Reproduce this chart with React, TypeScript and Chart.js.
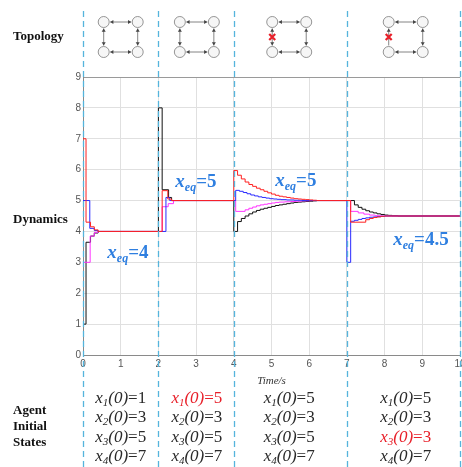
import React, { useEffect, useRef } from "react";
import { Chart, registerables } from "chart.js";

Chart.register(...registerables);

// ---------- data ----------
const xTicks = [0, 1, 2, 3, 4, 5, 6, 7, 8, 9, 10];
const yTicks = [0, 1, 2, 3, 4, 5, 6, 7, 8, 9];
const switchTimes = [0, 2, 4, 7, 10];
const segmentCenters = [1, 3.02, 5.47, 8.56];
const initialStates = [
  [1, 3, 5, 7],
  [5, 3, 5, 7],
  [5, 3, 5, 7],
  [5, 3, 3, 7],
];
const changedAgent = [-1, 0, -1, 2];
const eqLabels = ["4", "5", "5", "4.5"];
const eqLabelT = [0.645, 2.45, 5.1, 8.23];
const eqLabelY = [3.14, 5.44, 5.47, 3.56];
const brokenLink = [false, false, true, true];

// [time, value] change points (value holds from time until next point)
const agent1: [number, number][] = [
  [0, 1], [0.08, 3.65], [0.2, 3.85], [0.3, 3.95], [0.4, 4.0],
  [2.0, 8.0], [2.1, 5.35], [2.27, 5.1], [2.35, 5.0],
  [4.0, 4.0], [4.1, 4.32], [4.2, 4.42], [4.3, 4.5], [4.4, 4.57], [4.5, 4.63],
  [4.6, 4.68], [4.7, 4.72], [4.8, 4.75], [4.9, 4.78], [5.0, 4.81], [5.1, 4.84],
  [5.2, 4.86], [5.3, 4.88], [5.4, 4.9], [5.5, 4.92], [5.6, 4.94], [5.7, 4.95],
  [5.8, 4.96], [5.9, 4.97], [6.0, 4.98], [6.1, 4.99], [6.2, 5.0],
  [7.2, 4.86], [7.3, 4.78], [7.4, 4.72], [7.5, 4.67], [7.6, 4.63], [7.7, 4.6],
  [7.8, 4.57], [7.9, 4.55], [8.0, 4.53], [8.1, 4.52], [8.2, 4.51], [8.35, 4.5],
  [10, 4.5],
];
const agent2: [number, number][] = [
  [0, 3], [0.19, 3.85], [0.3, 3.97], [0.4, 4.0],
  [2.1, 4.8], [2.26, 4.9], [2.4, 5.0],
  [4.05, 4.65], [4.3, 4.7], [4.4, 4.75], [4.5, 4.79], [4.6, 4.83], [4.7, 4.86],
  [4.8, 4.88], [4.9, 4.9], [5.0, 4.92], [5.1, 4.94], [5.2, 4.95], [5.35, 4.96],
  [5.5, 4.97], [5.65, 4.98], [5.8, 4.99], [6.0, 5.0],
  [7.1, 4.65], [7.3, 4.6], [7.45, 4.56], [7.6, 4.53], [7.75, 4.51], [7.9, 4.5],
  [10, 4.5],
];
const agent3: [number, number][] = [
  [0, 5], [0.18, 4.1], [0.3, 4.03], [0.4, 4.0],
  [2.2, 5.1], [2.3, 5.0],
  [4.05, 5.33], [4.15, 5.3], [4.25, 5.26], [4.35, 5.22], [4.45, 5.18], [4.55, 5.15],
  [4.65, 5.12], [4.75, 5.1], [4.85, 5.08], [4.95, 5.06], [5.05, 5.05], [5.15, 5.04],
  [5.25, 5.03], [5.4, 5.02], [5.6, 5.01], [5.8, 5.0],
  [7.0, 3.0], [7.1, 4.33], [7.2, 4.36], [7.3, 4.39], [7.4, 4.42], [7.5, 4.44],
  [7.6, 4.46], [7.7, 4.47], [7.8, 4.48], [7.9, 4.49], [8.0, 4.5],
  [10, 4.5],
];
const agent4: [number, number][] = [
  [0, 7], [0.08, 4.3], [0.2, 4.15], [0.3, 4.05], [0.4, 4.0],
  [2.1, 5.32], [2.25, 5.05], [2.35, 5.0],
  [4.0, 5.97], [4.1, 5.82], [4.2, 5.7], [4.3, 5.6], [4.4, 5.52], [4.5, 5.46],
  [4.6, 5.4], [4.7, 5.35], [4.8, 5.3], [4.9, 5.25], [5.0, 5.21], [5.1, 5.17],
  [5.2, 5.14], [5.3, 5.12], [5.4, 5.1], [5.5, 5.08], [5.6, 5.06], [5.7, 5.05],
  [5.8, 5.04], [5.9, 5.03], [6.0, 5.02], [6.1, 5.01], [6.2, 5.0],
  [7.1, 4.3], [7.5, 4.38], [7.6, 4.42], [7.7, 4.45], [7.8, 4.47], [7.9, 4.49], [8.0, 4.5],
  [10, 4.5],
];

const agentColors = ["#111111", "#ff33ff", "#2a2aff", "#ff2020"];

type Part = { t: string; font: string; dy?: number };

function drawParts(ctx: CanvasRenderingContext2D, parts: Part[], x: number, y: number, color: string, align: "left" | "center") {
  let total = 0;
  for (const p of parts) {
    ctx.font = p.font;
    total += ctx.measureText(p.t).width;
  }
  let cx = align === "center" ? x - total / 2 : x;
  ctx.fillStyle = color;
  ctx.textAlign = "left";
  ctx.textBaseline = "alphabetic";
  for (const p of parts) {
    ctx.font = p.font;
    ctx.fillText(p.t, cx, y + (p.dy || 0));
    cx += ctx.measureText(p.t).width;
  }
}

function arrowHead(ctx: CanvasRenderingContext2D, x: number, y: number, dx: number, dy: number) {
  const len = Math.hypot(dx, dy);
  const ux = dx / len, uy = dy / len;
  const s = 3.2, w = 2;
  ctx.beginPath();
  ctx.moveTo(x, y);
  ctx.lineTo(x - ux * s - uy * w, y - uy * s + ux * w);
  ctx.lineTo(x - ux * s + uy * w, y - uy * s - ux * w);
  ctx.closePath();
  ctx.fill();
}

function edge(ctx: CanvasRenderingContext2D, x1: number, y1: number, x2: number, y2: number, headStart: boolean, headEnd: boolean) {
  ctx.beginPath();
  ctx.moveTo(x1, y1);
  ctx.lineTo(x2, y2);
  ctx.stroke();
  if (headEnd) arrowHead(ctx, x2, y2, x2 - x1, y2 - y1);
  if (headStart) arrowHead(ctx, x1, y1, x1 - x2, y1 - y2);
}

const decorPlugin = {
  id: "decor",
  beforeDraw(chart: any) {
    const ctx = chart.ctx as CanvasRenderingContext2D;
    ctx.save();
    ctx.fillStyle = "#ffffff";
    ctx.fillRect(0, 0, chart.width, chart.height);
    ctx.restore();
  },
  afterDraw(chart: any) {
    const ctx = chart.ctx as CanvasRenderingContext2D;
    const xs = chart.scales.x;
    const ys = chart.scales.y;
    const area = chart.chartArea;
    ctx.save();

    // left row labels
    ctx.fillStyle = "#111";
    ctx.font = "bold 13px 'Liberation Serif', 'DejaVu Serif', serif";
    ctx.textAlign = "left";
    ctx.textBaseline = "alphabetic";
    ctx.fillText("Topology", 13, 40);
    ctx.fillText("Dynamics", 13, 223);
    ctx.fillText("Agent", 13, 414);
    ctx.fillText("Initial", 13, 430);
    ctx.fillText("States", 13, 446);

    // axis title
    ctx.font = "italic 11px 'Liberation Serif', serif";
    ctx.fillStyle = "#333";
    ctx.textAlign = "center";
    ctx.fillText("Time/s", (area.left + area.right) / 2, 384);

    // switching lines
    ctx.strokeStyle = "#55b4dc";
    ctx.lineWidth = 1.3;
    ctx.setLineDash([6, 4]);
    for (const t of switchTimes) {
      const px = Math.round(xs.getPixelForValue(t)) + 0.5;
      ctx.beginPath();
      ctx.moveTo(px, 11);
      ctx.lineTo(px, chart.height);
      ctx.stroke();
    }
    ctx.setLineDash([]);

    // topology diagrams
    segmentCenters.forEach((tc, i) => {
      const cx = xs.getPixelForValue(tc);
      const lx = cx - 17, rx = cx + 17, ty = 22, by = 52, r = 5.5;
      ctx.strokeStyle = "#666";
      ctx.fillStyle = "#444";
      ctx.lineWidth = 0.8;
      edge(ctx, lx + r + 1, ty, rx - r - 1, ty, true, true);
      edge(ctx, lx + r + 1, by, rx - r - 1, by, true, true);
      edge(ctx, rx, ty + r + 1, rx, by - r - 1, true, true);
      if (brokenLink[i] && i === 3) {
        edge(ctx, lx, by - r - 1, lx, ty + r + 1, false, true);
      } else {
        edge(ctx, lx, ty + r + 1, lx, by - r - 1, true, true);
      }
      for (const [px, py] of [[lx, ty], [rx, ty], [lx, by], [rx, by]]) {
        ctx.beginPath();
        ctx.arc(px, py, r, 0, Math.PI * 2);
        ctx.fillStyle = "#f6f6f6";
        ctx.fill();
        ctx.strokeStyle = "#8a8a8a";
        ctx.lineWidth = 0.9;
        ctx.stroke();
      }
      if (brokenLink[i]) {
        ctx.strokeStyle = "#e8202a";
        ctx.lineWidth = 2.2;
        const my = 37, s = 3;
        ctx.beginPath();
        ctx.moveTo(lx - s, my - s);
        ctx.lineTo(lx + s, my + s);
        ctx.moveTo(lx + s, my - s);
        ctx.lineTo(lx - s, my + s);
        ctx.stroke();
      }
    });

    // equilibrium labels
    eqLabels.forEach((v, i) => {
      const px = xs.getPixelForValue(eqLabelT[i]);
      const py = ys.getPixelForValue(eqLabelY[i]);
      drawParts(
        ctx,
        [
          { t: "x", font: "bold italic 19px 'Liberation Serif', serif" },
          { t: "eq", font: "bold italic 12px 'Liberation Serif', serif", dy: 4 },
          { t: "=" + v, font: "bold 19px 'Liberation Serif', serif" },
        ],
        px,
        py,
        "#2f7fe0",
        "left"
      );
    });

    // initial states
    const baselines = [403, 422, 442, 461];
    initialStates.forEach((vals, i) => {
      const cx = xs.getPixelForValue(segmentCenters[i]);
      vals.forEach((v, k) => {
        const color = changedAgent[i] === k ? "#e8202a" : "#2a2a2a";
        drawParts(
          ctx,
          [
            { t: "x", font: "italic 17px 'Liberation Serif', serif" },
            { t: String(k + 1), font: "italic 11px 'Liberation Serif', serif", dy: 3 },
            { t: "(0)", font: "italic 17px 'Liberation Serif', serif" },
            { t: "=" + v, font: "17px 'Liberation Serif', serif" },
          ],
          cx,
          baselines[k],
          color,
          "center"
        );
      });
    });

    ctx.restore();
  },
};

export default function App() {
  const ref = useRef<HTMLCanvasElement | null>(null);
  useEffect(() => {
    if (!ref.current) return;
    const series = [
      { label: "x4", pts: agent4, color: agentColors[3] },
      { label: "x3", pts: agent3, color: agentColors[2] },
      { label: "x2", pts: agent2, color: agentColors[1] },
      { label: "x1", pts: agent1, color: agentColors[0] },
    ];
    const chart = new Chart(ref.current, {
      type: "line",
      data: {
        datasets: series.map((s) => ({
          label: s.label,
          data: s.pts.map(([x, y]) => ({ x, y })),
          borderColor: s.color,
          borderWidth: 1,
          stepped: "before" as const,
          pointRadius: 0,
          fill: false,
        })),
      },
      options: {
        animation: false,
        responsive: false,
        maintainAspectRatio: false,
        layout: { padding: { left: 71, right: 2, top: 77, bottom: 92 } },
        plugins: { legend: { display: false }, tooltip: { enabled: false } },
        scales: {
          x: {
            type: "linear",
            min: 0,
            max: 10,
            afterBuildTicks: (s: any) => {
              s.ticks = xTicks.map((v) => ({ value: v }));
            },
            afterFit: (s: any) => {
              s.height = 20;
              s.paddingLeft = 0;
              s.paddingRight = 0;
            },
            grid: { color: "#e0e0e0", drawTicks: false },
            border: { color: "#8a8a8a" },
            ticks: {
              padding: 3,
              color: "#555",
              autoSkip: false,
              maxRotation: 0,
              font: { size: 10, family: "'Liberation Sans', Arial, sans-serif" },
            },
          },
          y: {
            type: "linear",
            min: 0,
            max: 9,
            afterBuildTicks: (s: any) => {
              s.ticks = yTicks.map((v) => ({ value: v }));
            },
            afterFit: (s: any) => {
              s.width = 12;
              s.paddingTop = 0;
              s.paddingBottom = 0;
            },
            grid: {
              color: (c: any) => (c.tick && c.tick.value === 9 ? "#9a9a9a" : "#e0e0e0"),
              drawTicks: false,
            },
            border: { color: "#8a8a8a" },
            ticks: {
              padding: 2,
              color: "#555",
              font: { size: 10, family: "'Liberation Sans', Arial, sans-serif" },
            },
          },
        },
      },
      plugins: [decorPlugin],
    });
    return () => chart.destroy();
  }, []);
  return (
    <div style={{ position: "absolute", left: 0, top: 0, width: 462, height: 467, background: "#fff" }}>
      <canvas ref={ref} width={462} height={467} style={{ display: "block", width: 462, height: 467 }} />
    </div>
  );
}
